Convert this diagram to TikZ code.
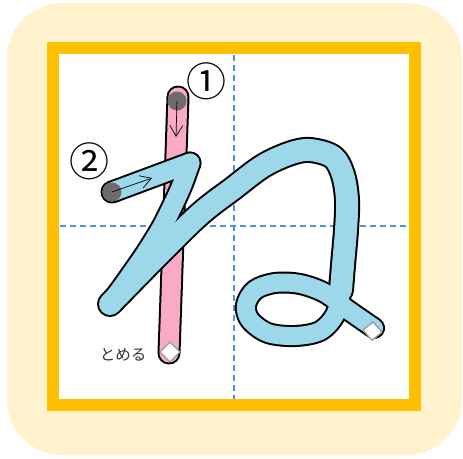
\documentclass[tikz,border=0pt]{standalone}
\usepackage{fontspec}
\newfontfamily\jpfont{Noto Sans CJK JP}
\usetikzlibrary{arrows.meta}
\definecolor{bgyellow}{HTML}{FFF2CC}
\definecolor{frameor}{HTML}{FFC000}
\definecolor{gridblue}{HTML}{4A90DC}
\definecolor{strokeblue}{HTML}{9DD7EA}
\definecolor{strokepink}{HTML}{F8AAC7}
\definecolor{dotgrey}{HTML}{6E6B6C}
\definecolor{diagrey}{HTML}{9A9A9A}
\definecolor{textgrey}{HTML}{333333}
\begin{document}
\begin{tikzpicture}[x=1pt,y=-1pt,
  gridline/.style={gridblue, line width=1.2pt, dash pattern=on 6pt off 4pt},
  penpass/.style={line cap=round, line join=round},
  guidearrow/.style={black, line width=0.7pt, -{Straight Barb[length=11pt,width=13pt,line width=0.7pt]}},
  endmark/.style={diagrey, fill=white, line width=1.3pt, line join=round},
  numlabel/.style={font=\jpfont\fontsize{40}{40}\selectfont, inner sep=0pt},
  notelabel/.style={font=\jpfont\fontsize{15.5}{15.5}\selectfont, text=textgrey, inner sep=0pt}]
\useasboundingbox (0,0) rectangle (463,458);
% background
\fill[bgyellow, rounded corners=55pt] (7,3) rectangle (462,455);
\fill[white] (53,48) rectangle (415,405);
\draw[frameor, line width=12pt] (53,48) rectangle (415,405);
% guide lines
\draw[gridline] (234,55) -- (234,399);
\draw[gridline] (60,226) -- (409,226);
% stroke 1 (pink)
\coordinate (Ptop) at (178,97);
\coordinate (Pbot) at (169,353);
\draw[black, line width=23pt, penpass] (Ptop) -- (Pbot);
\draw[strokepink, line width=19pt, penpass] (Ptop) -- (Pbot);
\fill[dotgrey] (177,101) circle[radius=9.5pt];
\coordinate (Pa) at (177,101);
\coordinate (Pb) at (176,137);
\draw[guidearrow] (Pa) -- (Pb);
\draw[endmark] (170,342) -- (180,352) -- (170,362) -- (160,352) -- cycle;
% stroke 2 (blue)
\coordinate (S) at (112,192);
\coordinate (C1) at (190,163);
\coordinate (C2) at (110,304);
\foreach \c/\wa/\wd/\wb/\wc in {black/23/23/26/22, strokeblue/19/19/22/18} {
  \draw[\c, line width=\wa pt, penpass] (S) -- (C1);
  \draw[\c, line width=\wd pt, penpass]
     plot[smooth, tension=0.5] coordinates {(190,163) (182,185) (173,205) (162,227) (146,253) (128,279) (110,304)};
  \draw[\c, line width=\wb pt, penpass]
     plot[smooth, tension=0.55] coordinates {(110,304) (158,255) (200,214) (233,188.5) (263,166) (290,153.5) (310,150) (333,157) (343,175) (347,200) (346,230) (343,265) (341,290)};
  \draw[\c, line width=\wc pt, penpass]
     plot[smooth, tension=0.55] coordinates {(346,230) (343,265) (341,292) (335,315) (320,331) (295,336) (268,333) (250,320) (246,305) (255,290) (275,283) (300,284) (325,293) (348,310) (374,328)};
}
\fill[dotgrey] (S) circle[radius=9.5pt];
\coordinate (Sa) at (152,178);
\draw[guidearrow] (S) -- (Sa);
\draw[endmark] (373,322) -- (382,332) -- (372,340.5) -- (363,330) -- cycle;
% labels
\node[numlabel] (n1) at (206,81) {①};
\node[numlabel] (n2) at (89,161) {②};
\node[notelabel] (tomeru) at (123,355) {とめる};
\end{tikzpicture}
\end{document}
